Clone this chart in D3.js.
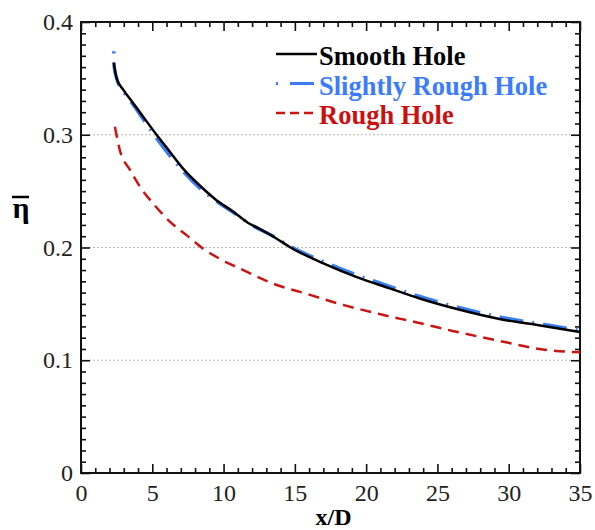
<!DOCTYPE html>
<html>
<head>
<meta charset="utf-8">
<script src="https://cdn.jsdelivr.net/npm/d3@7"></script>
<style>
  body { margin: 0; background: #fff; }
</style>
</head>
<body>
<div class="container"></div>
<script>
// values: [x/D, eta]
var smoothHole = [
    [2.3, 0.364], [2.5, 0.350], [2.96, 0.340], [3.66, 0.328], [4.36, 0.316],
    [5.3, 0.300], [6.23, 0.285], [7.16, 0.270], [8.33, 0.255], [9.5, 0.242],
    [10.66, 0.232], [11.7, 0.222], [12.3, 0.218], [13.7, 0.208], [14.7, 0.200],
    [17, 0.186], [19.3, 0.174], [21.6, 0.164], [23.7, 0.155], [26.5, 0.145],
    [29.6, 0.136], [32.1, 0.131], [35, 0.125]
];
var slightlyRoughHole = [
    [2.3, 0.374], [2.32, 0.361], [2.5, 0.350], [3.0, 0.338], [3.7, 0.326],
    [4.4, 0.313], [5.3, 0.297], [6.2, 0.282], [7.2, 0.267], [8.3, 0.253],
    [9.5, 0.241], [10.7, 0.231], [11.7, 0.222], [13.7, 0.2085], [14.7, 0.2008],
    [17, 0.1875], [19.3, 0.1758], [21.6, 0.1658], [23.7, 0.1568], [26.5, 0.1468],
    [29.6, 0.1378], [32.1, 0.1325], [35, 0.1265]
];
var roughHole = [
    [2.38, 0.307], [2.73, 0.286], [3.43, 0.269], [4.13, 0.254], [5.06, 0.239],
    [6.23, 0.223], [7.4, 0.211], [8.56, 0.199], [9.73, 0.190], [11.2, 0.181],
    [13.46, 0.168], [15.8, 0.159], [18.13, 0.150], [20.93, 0.141], [23.73, 0.133],
    [26.06, 0.126], [29.8, 0.116], [32.13, 0.110], [35, 0.107]
];
var xTicks = [0, 5, 10, 15, 20, 25, 30, 35];
var yTicks = [0, 0.1, 0.2, 0.3, 0.4];
var gridValues = [0.1, 0.2, 0.3];
var legendLabels = ["Smooth Hole", "Slightly Rough Hole", "Rough Hole"];

var config = {
    width: 595,
    height: 530,
    font: "'Liberation Serif'",
    margin: { left: 81, top: 22, right: 15, bottom: 57 },
    colors: ["#000000", "#3a7df2", "#cc1414"],
    textColors: ["#000000", "#3b7cff", "#cc1010"],
    dashes: [null, "2,9,24,9", "11,7"],
    widths: [2.5, 3.5, 2.5]
};

var svg = d3.select(".container").append("svg")
    .attr("width", config.width)
    .attr("height", config.height)
    .style("font-family", config.font);

var x = d3.scaleLinear().domain([0, 35]).range([config.margin.left, config.width - config.margin.right]);
var y = d3.scaleLinear().domain([0, 0.4]).range([config.height - config.margin.bottom, config.margin.top]);

var xMinor = d3.range(0, 36, 1).filter((d) => d % 5 !== 0);
var yMinor = d3.range(1, 40).map((d) => d / 100).filter((d, i) => (i + 1) % 10 !== 0);

// dotted grid
svg.append("g").selectAll("line")
    .data(gridValues)
    .join("line")
    .attr("x1", x(0)).attr("x2", x(35))
    .attr("y1", (d) => y(d)).attr("y2", (d) => y(d))
    .attr("stroke", "#b8b8b8")
    .attr("stroke-width", 1.2)
    .attr("stroke-dasharray", "2,2");

var styleAxis = (g) => {
    g.attr("font-family", null);
    g.select(".domain").remove();
    g.selectAll(".tick line").attr("stroke", "#111").attr("stroke-width", 1.6);
    g.selectAll("text")
        .style("font-family", config.font)
        .attr("fill", "#222")
        .attr("font-size", 24);
};

var y0 = y(0), y1 = y(0.4), x0 = x(0), x1 = x(35);

// bottom
svg.append("g").attr("transform", `translate(0,${y0})`)
    .call(d3.axisBottom(x).tickValues(xTicks).tickSize(-9).tickPadding(11).tickFormat(d3.format("d")))
    .call(styleAxis);
svg.append("g").attr("transform", `translate(0,${y0})`)
    .call(d3.axisBottom(x).tickValues(xMinor).tickSize(-5).tickFormat(""))
    .call(styleAxis);
// top
svg.append("g").attr("transform", `translate(0,${y1})`)
    .call(d3.axisTop(x).tickValues(xTicks).tickSize(-9).tickFormat(""))
    .call(styleAxis);
svg.append("g").attr("transform", `translate(0,${y1})`)
    .call(d3.axisTop(x).tickValues(xMinor).tickSize(-5).tickFormat(""))
    .call(styleAxis);
// left
svg.append("g").attr("transform", `translate(${x0},0)`)
    .call(d3.axisLeft(y).tickValues(yTicks).tickSize(-9).tickPadding(8).tickFormat((d) => d === 0 ? "0" : d3.format(".1f")(d)))
    .call(styleAxis);
svg.append("g").attr("transform", `translate(${x0},0)`)
    .call(d3.axisLeft(y).tickValues(yMinor).tickSize(-5).tickFormat(""))
    .call(styleAxis);
// right
svg.append("g").attr("transform", `translate(${x1},0)`)
    .call(d3.axisRight(y).tickValues(yTicks).tickSize(-9).tickFormat(""))
    .call(styleAxis);
svg.append("g").attr("transform", `translate(${x1},0)`)
    .call(d3.axisRight(y).tickValues(yMinor).tickSize(-5).tickFormat(""))
    .call(styleAxis);

// frame
svg.append("rect")
    .attr("x", x0).attr("y", y1)
    .attr("width", x1 - x0).attr("height", y0 - y1)
    .attr("fill", "none")
    .attr("stroke", "#111")
    .attr("stroke-width", 2);

// curves
var line = d3.line()
    .x((d) => x(d[0]))
    .y((d) => y(d[1]))
    .curve(d3.curveMonotoneX);

var series = [smoothHole, slightlyRoughHole, roughHole];
[2, 1, 0].forEach((i) => {
    svg.append("path")
        .datum(series[i])
        .attr("d", line)
        .attr("fill", "none")
        .attr("stroke", config.colors[i])
        .attr("stroke-width", config.widths[i])
        .attr("stroke-dasharray", config.dashes[i]);
});

// legend
var legend = svg.append("g");
legendLabels.forEach((label, i) => {
    var ly = 54 + i * 29.5;
    legend.append("line")
        .attr("x1", 276).attr("x2", 317)
        .attr("y1", ly).attr("y2", ly)
        .attr("stroke", config.colors[i])
        .attr("stroke-width", i === 1 ? 3 : config.widths[i])
        .attr("stroke-dasharray", i === 1 ? "2,12,24,9" : (i === 2 ? "9,5" : null));
    legend.append("text")
        .attr("x", 319)
        .attr("y", ly + 11)
        .attr("font-size", 26.5)
        .attr("font-weight", "bold")
        .attr("fill", config.textColors[i])
        .text(label);
});

// axis titles
svg.append("text")
    .attr("x", (x0 + x1) / 2 + 3)
    .attr("y", 525)
    .attr("text-anchor", "middle")
    .attr("font-size", 24)
    .attr("font-weight", "bold")
    .text("x/D");

svg.append("text")
    .attr("x", 21)
    .attr("y", 218)
    .attr("text-anchor", "middle")
    .attr("font-size", 30)
    .attr("font-weight", "bold")
    .text("η");
svg.append("line")
    .attr("x1", 12).attr("x2", 29)
    .attr("y1", 197).attr("y2", 197)
    .attr("stroke", "#000")
    .attr("stroke-width", 2.5);
</script>
</body>
</html>
